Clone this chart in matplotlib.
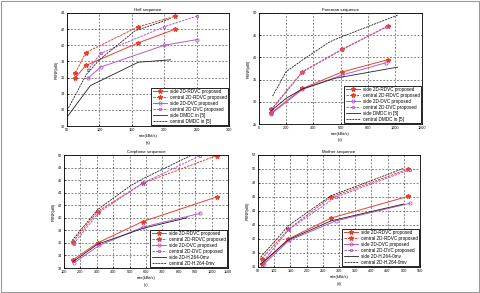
import matplotlib.pyplot as plt
from matplotlib.patches import Rectangle

plt.rcParams['font.family'] = ['Liberation Sans', 'DejaVu Sans']

# ---- data ----
# (a) Hall
hall_rdvc_x = [63, 79, 160, 217]
hall_rdvc_side = [36.0, 37.5, 40.3, 42.0]
hall_rdvc_central = [36.6, 39.1, 42.3, 43.6]
hall_dvc_x = [82, 102, 200, 250]
hall_dvc_side = [35.9, 37.3, 40.0, 40.7]
hall_dvc_central = [36.9, 39.0, 42.3, 43.6]
hall_ref_side_x = [50, 86, 160, 210]
hall_ref_side = [31.1, 35.0, 37.9, 38.2]
hall_ref_central_x = [50, 80, 100, 155, 210]
hall_ref_central = [31.9, 36.4, 38.2, 41.8, 43.3]

# (b) Foreman
fm_rdvc_x = [90, 320, 610, 950]
fm_rdvc_side = [27.5, 33.0, 36.7, 39.5]
fm_rdvc_central = [28.3, 36.8, 41.8, 47.0]
fm_dvc_x = [90, 320, 610, 935]
fm_dvc_side = [27.3, 32.8, 36.0, 38.8]
fm_dvc_central = [28.1, 36.7, 41.7, 46.9]
fm_ref_side_x = [90, 200, 320, 560, 1020]
fm_ref_side = [28.0, 30.8, 32.9, 35.3, 37.8]
fm_ref_central_x = [100, 200, 320, 520, 620, 1020]
fm_ref_central = [31.3, 36.8, 39.4, 43.5, 44.8, 49.5]

# (c) Carphone
cp_rdvc_x = [155, 305, 580, 1030]
cp_rdvc_side = [33.3, 36.0, 39.4, 43.3]
cp_rdvc_central = [36.2, 41.0, 45.5, 49.9]
cp_dvc_x = [160, 315, 580, 930]
cp_dvc_side = [32.8, 35.6, 38.5, 40.7]
cp_dvc_central = [35.9, 40.9, 45.5, 49.9]
cp_ref_side_x = [155, 305, 580, 850]
cp_ref_side = [33.0, 35.8, 38.3, 40.0]
cp_ref_central_x = [150, 305, 500, 580, 880]
cp_ref_central = [36.4, 41.3, 45.0, 46.2, 50.0]

# (d) Mother
mo_rdvc_x = [62, 144, 276, 514]
mo_rdvc_side = [36.4, 40.0, 43.0, 46.1]
mo_rdvc_central = [37.2, 41.4, 46.0, 50.0]
mo_dvc_x = [68, 146, 291, 519]
mo_dvc_side = [36.4, 39.8, 42.6, 45.1]
mo_dvc_central = [36.9, 41.4, 46.0, 49.9]
mo_ref_x = [58, 144, 276, 500]
mo_ref_side = [36.4, 39.9, 42.6, 45.0]
mo_ref_central = [37.4, 41.9, 46.2, 50.1]

labels_dmdc = ["side 2D-RDVC proposed", "central 2D-RDVC proposed",
               "side 2D-DVC proposed", "central 2D-DVC proposed",
               "side DMDC in [5]", "central DMDC in [5]"]
labels_h264 = ["side 2D-RDVC proposed", "central 2D-RDVC proposed",
               "side 2D-DVC proposed", "central 2D-DVC proposed",
               "side 2D-H.264-0mv", "central 2D-H.264-0mv"]

RED = '#e8402e'
PURPLE = '#b45ac8'
BLACK = '#222222'

W, H = 480, 293
fig = plt.figure(figsize=(4.8, 2.93), dpi=100)
fig.patch.set_facecolor('white')
fig.add_artist(Rectangle((0.002, 0.002), 0.996, 0.994, transform=fig.transFigure,
                         fill=False, edgecolor='#999999', lw=0.8))


def make_axes(l, r, t, b):
    return fig.add_axes([l / W, (H - b) / H, (r - l) / W, (b - t) / H])


def panel(ax, data, labels, title, xlim, xticks, ylim, yticks, tag):
    (rx, rs, rc, dx, ds, dc, sx, ss, cx, cc) = data
    ax.plot(rx, rs, '-', color=RED, marker='*', ms=3.2, lw=0.7)
    ax.plot(rx, rc, '--', color=RED, marker='*', ms=3.2, lw=0.7, dashes=(2.5, 1))
    ax.plot(dx, ds, '-', color=PURPLE, marker='o', ms=2.3, mfc='none', mew=0.6, lw=0.7)
    ax.plot(dx, dc, '--', color=PURPLE, marker='s', ms=2.1, mfc='none', mew=0.6, lw=0.7,
            dashes=(2.5, 1))
    ax.plot(sx, ss, '-', color=BLACK, lw=0.6)
    ax.plot(cx, cc, '--', color=BLACK, lw=0.6, dashes=(2.5, 1))
    ax.set_xlim(*xlim)
    ax.set_ylim(*ylim)
    ax.set_xticks(xticks)
    ax.set_yticks(yticks)
    ax.grid(True, color='#444444', linestyle=(0, (3, 2.5)), lw=0.45)
    ax.tick_params(direction='in', labelsize=2.7, length=1.5, width=0.4, pad=1.5)
    for s in ax.spines.values():
        s.set_linewidth(0.6)
    ax.set_title(title, fontsize=3.2, pad=1.5)
    ax.set_xlabel('rate(kBit/s)', fontsize=2.8, labelpad=1.5)
    ax.set_ylabel('PSNR(dB)', fontsize=2.8, labelpad=1.5)
    leg = ax.legend(labels, loc='lower right', fontsize=3.3, fancybox=False,
                    framealpha=1, edgecolor='black', borderpad=0.3,
                    labelspacing=0.22, handlelength=3.2, handletextpad=0.6,
                    borderaxespad=0.15)
    leg.get_frame().set_linewidth(0.6)
    ax.text(0.5, -0.13, tag, transform=ax.transAxes, ha='center', va='top', fontsize=2.8)


ax_a = make_axes(67, 229, 13, 126)
panel(ax_a, (hall_rdvc_x, hall_rdvc_side, hall_rdvc_central,
             hall_dvc_x, hall_dvc_side, hall_dvc_central,
             hall_ref_side_x, hall_ref_side, hall_ref_central_x, hall_ref_central),
      labels_dmdc, 'Hall sequence', (50, 300), range(50, 301, 50),
      (30, 44), range(30, 45, 2), '(a)')

ax_b = make_axes(259, 422, 13, 124)
panel(ax_b, (fm_rdvc_x, fm_rdvc_side, fm_rdvc_central,
             fm_dvc_x, fm_dvc_side, fm_dvc_central,
             fm_ref_side_x, fm_ref_side, fm_ref_central_x, fm_ref_central),
      labels_dmdc, 'Foreman sequence', (0, 1200), range(0, 1201, 200),
      (25, 50), range(25, 51, 5), '(b)')

ax_c = make_axes(64, 228, 155, 268)
panel(ax_c, (cp_rdvc_x, cp_rdvc_side, cp_rdvc_central,
             cp_dvc_x, cp_dvc_side, cp_dvc_central,
             cp_ref_side_x, cp_ref_side, cp_ref_central_x, cp_ref_central),
      labels_h264, 'Carphone sequence', (100, 1100), range(100, 1101, 100),
      (32, 50), range(32, 51, 2), '(c)')

ax_d = make_axes(258, 420, 155, 267)
panel(ax_d, (mo_rdvc_x, mo_rdvc_side, mo_rdvc_central,
             mo_dvc_x, mo_dvc_side, mo_dvc_central,
             mo_ref_x, mo_ref_side, mo_ref_x, mo_ref_central),
      labels_h264, 'Mother sequence', (50, 550), range(50, 551, 50),
      (36, 52), range(36, 53, 2), '(d)')

fig.savefig('out.png', dpi=100)
